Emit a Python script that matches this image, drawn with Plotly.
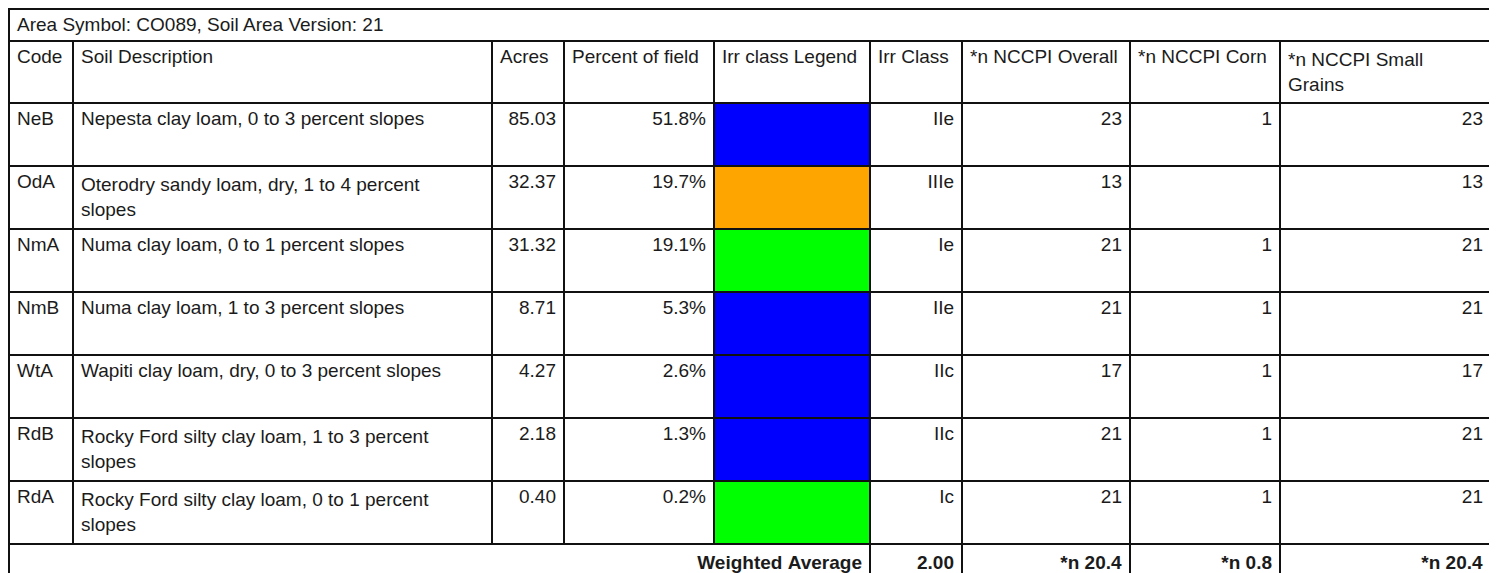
import plotly.graph_objects as go

# ---------------- data ----------------
title_text = "Area Symbol: CO089, Soil Area Version: 21"
headers = ["Code", "Soil Description", "Acres", "Percent of field", "Irr class Legend",
           "Irr Class", "*n NCCPI Overall", "*n NCCPI Corn", "*n NCCPI Small<br>Grains"]
codes = ["NeB", "OdA", "NmA", "NmB", "WtA", "RdB", "RdA"]
descriptions = [
    "Nepesta clay loam, 0 to 3 percent slopes",
    "Oterodry sandy loam, dry, 1 to 4 percent<br>slopes",
    "Numa clay loam, 0 to 1 percent slopes",
    "Numa clay loam, 1 to 3 percent slopes",
    "Wapiti clay loam, dry, 0 to 3 percent slopes",
    "Rocky Ford silty clay loam, 1 to 3 percent<br>slopes",
    "Rocky Ford silty clay loam, 0 to 1 percent<br>slopes",
]
acres = [85.03, 32.37, 31.32, 8.71, 4.27, 2.18, 0.40]
percent_of_field = [51.8, 19.7, 19.1, 5.3, 2.6, 1.3, 0.2]
irr_class = ["IIe", "IIIe", "Ie", "IIe", "IIc", "IIc", "Ic"]
nccpi_overall = [23, 13, 21, 21, 17, 21, 21]
nccpi_corn = [1, None, 1, 1, 1, 1, 1]
nccpi_small_grains = [23, 13, 21, 21, 17, 21, 21]
footer_label = "Weighted Average"
weighted_irr = "2.00"
weighted_overall = "*n 20.4"
weighted_corn = "*n 0.8"
weighted_small_grains = "*n 20.4"

# ---------------- styling / layout ----------------
# the page body adds an 8px margin, so the figure is sized to end at the window edge
W, H = 1489, 565
FONT = "Liberation Sans, Arial, sans-serif"
FS = 19
TXT = "#1b1b1b"
LINE = "#111111"
LW = 2
class_colors = {"I": "#00FF00", "II": "#0000FF", "III": "#FFA500"}

col_px = [64, 419, 72, 150, 156, 92, 168, 150, 211]
x0_px = 1
x1_px = x0_px + sum(col_px)
top_px, title_h, header_h, row_h = 1, 32, 62, 63
footer_top_px = top_px + title_h + header_h + row_h * len(codes)


def ydom(a_px, b_px):
    return [max(0.0, 1 - b_px / H), min(1.0, 1 - a_px / H)]


def nobreak(s):
    # keep single-line labels on one line (plotly wraps at plain spaces)
    return s if "<br>" in s else s.replace(" ", "\u00a0")


xdom = [x0_px / W, x1_px / W]
legend_colors = [class_colors[c.rstrip("ces")] for c in irr_class]
white_col = ["white"] * len(codes)

fig = go.Figure()

# title row
fig.add_trace(go.Table(
    domain=dict(x=xdom, y=ydom(top_px, top_px + title_h)),
    columnwidth=[sum(col_px)],
    header=dict(values=[title_text], align="left", height=title_h,
                font=dict(family=FONT, size=FS, color=TXT),
                fill_color="white", line=dict(color=LINE, width=LW)),
    cells=dict(values=[[]], height=1, fill_color="white", line=dict(color=LINE, width=0)),
))

# main table
fig.add_trace(go.Table(
    domain=dict(x=xdom, y=ydom(top_px + title_h, footer_top_px)),
    columnwidth=col_px,
    header=dict(values=[nobreak(h) for h in headers], align="left", height=header_h,
                font=dict(family=FONT, size=FS, color=TXT),
                fill_color="white", line=dict(color=LINE, width=LW)),
    cells=dict(
        values=[codes, descriptions,
                [f"{a:.2f}" for a in acres],
                [f"{p:.1f}%" for p in percent_of_field],
                [""] * len(codes),
                irr_class,
                nccpi_overall,
                ["" if v is None else v for v in nccpi_corn],
                nccpi_small_grains],
        align=["left", "left", "right", "right", "left", "right", "right", "right", "right"],
        height=row_h,
        font=dict(family=FONT, size=FS, color=TXT),
        fill_color=[white_col, white_col, white_col, white_col, legend_colors,
                    white_col, white_col, white_col, white_col],
        line=dict(color=LINE, width=LW),
    ),
))

# footer row (continues past the bottom edge, as in the source)
fig.add_trace(go.Table(
    domain=dict(x=xdom, y=ydom(footer_top_px, H)),
    columnwidth=[sum(col_px[:5])] + col_px[5:],
    header=dict(values=[f"<b>{nobreak(footer_label)}</b>", f"<b>{weighted_irr}</b>",
                        f"<b>{nobreak(weighted_overall)}</b>", f"<b>{nobreak(weighted_corn)}</b>",
                        f"<b>{nobreak(weighted_small_grains)}</b>"],
                align="right", height=40,
                font=dict(family=FONT, size=FS, color=TXT),
                fill_color="white", line=dict(color=LINE, width=LW)),
    cells=dict(values=[[], [], [], [], []], height=1, line=dict(color=LINE, width=0)),
))

fig.update_layout(width=W, height=H, margin=dict(l=0, r=0, t=0, b=0),
                  paper_bgcolor="white", plot_bgcolor="white", showlegend=False)

fig.write_html("out.html")
